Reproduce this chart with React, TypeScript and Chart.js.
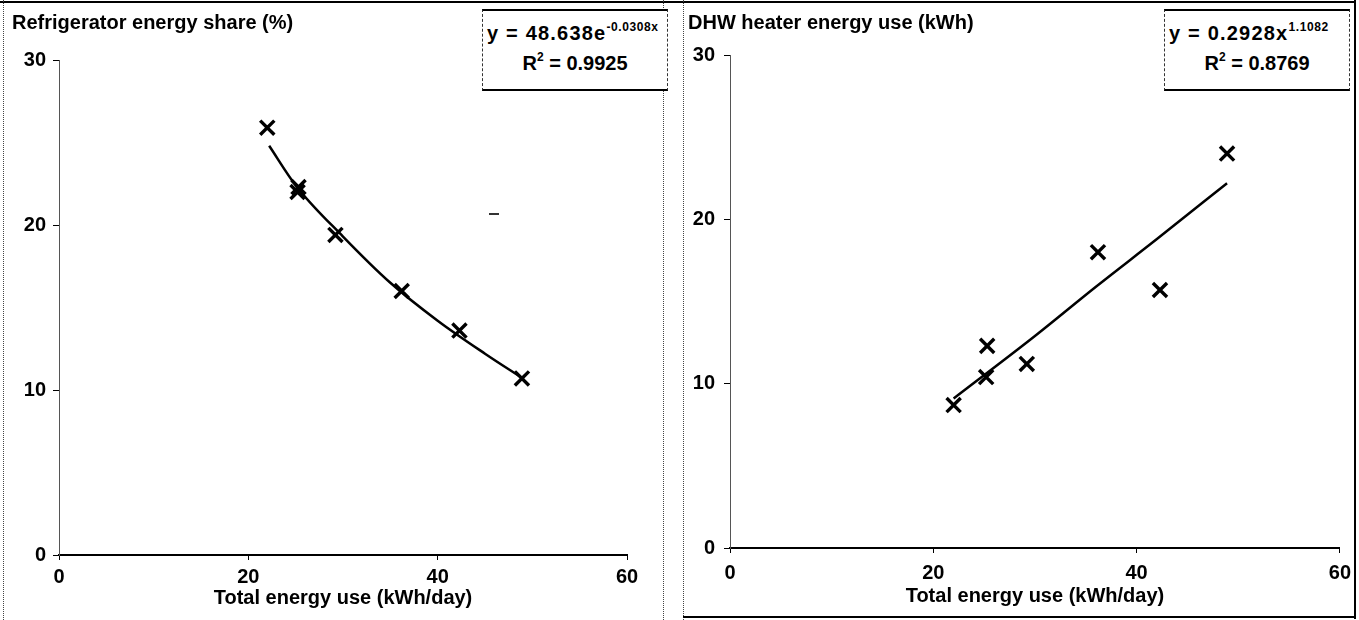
import React, { useEffect, useRef } from "react";
import { Chart, registerables } from "chart.js";

Chart.register(...registerables);

// ---- data ----
const totalEnergy = [22.0, 25.2, 25.3, 29.2, 36.2, 42.3, 48.9];
const fridgeShare = [25.9, 22.0, 22.3, 19.4, 16.0, 13.6, 10.7];
const dhwEnergy = [8.7, 10.4, 12.3, 11.2, 18.0, 15.7, 24.0];

// trend lines as drawn in the picture
const fridgeTrendX = [22.2, 25, 30, 35, 40, 45, 49.0];
const fridgeTrendY = [24.8, 22.4, 19.3, 16.5, 14.2, 12.2, 10.7];
const dhwTrendX = [22.0, 30, 36, 42, 48.9];
const dhwTrendY = [9.1, 12.9, 15.9, 18.8, 22.2];

const xTicks = [0, 20, 40, 60];
const yTicks = [0, 10, 20, 30];

const leftYTitle = "Refrigerator energy share (%)";
const rightYTitle = "DHW heater energy use (kWh)";
const xTitle = "Total energy use (kWh/day)";

const FONT = "'Liberation Sans', Arial, Helvetica, sans-serif";
const tickFont = { family: FONT, size: 20, weight: "bold" as const };

type PanelCfg = {
  pointsY: number[];
  trendX: number[];
  trendY: number[];
  tension: number;
  padRight: number;
  padTop: number;
  yWidth: number;
  xHeight: number;
  yTickPad: number;
  xTickPad: number;
  xTitleBottom: number;
  yDash: number[];
};

function makeConfig(c: PanelCfg): any {
  return {
    type: "scatter",
    data: {
      datasets: [
        {
          label: "trend",
          data: c.trendX.map((x, i) => ({ x, y: c.trendY[i] })),
          showLine: true,
          pointRadius: 0,
          borderColor: "#000",
          borderWidth: 2.5,
          tension: c.tension,
          cubicInterpolationMode: "monotone",
        },
        {
          label: "points",
          data: totalEnergy.map((x, i) => ({ x, y: c.pointsY[i] })),
          showLine: false,
          pointStyle: "crossRot",
          pointRadius: 10,
          pointBorderWidth: 3.4,
          borderColor: "#000",
          backgroundColor: "#000",
        },
      ],
    },
    options: {
      responsive: false,
      animation: false,
      events: [],
      layout: { padding: { top: c.padTop, right: c.padRight, left: 0, bottom: 0 } },
      plugins: { legend: { display: false }, title: { display: false }, tooltip: { enabled: false } },
      scales: {
        x: {
          type: "linear",
          min: 0,
          max: 60,
          afterBuildTicks: (s: any) => {
            s.ticks = xTicks.map((v) => ({ value: v }));
          },
          afterFit: (s: any) => {
            s.height = c.xHeight;
          },
          grid: { display: true, drawOnChartArea: false, drawTicks: true, tickLength: 5, color: "#000", lineWidth: 1 },
          border: { display: true, color: "#000", width: 2 },
          ticks: { font: tickFont, color: "#000", padding: c.xTickPad, maxRotation: 0, autoSkip: false },
          title: {
            display: true,
            text: xTitle,
            font: tickFont,
            color: "#000",
            padding: { top: 0, bottom: c.xTitleBottom },
          },
        },
        y: {
          type: "linear",
          min: 0,
          max: 30,
          afterBuildTicks: (s: any) => {
            s.ticks = yTicks.map((v) => ({ value: v }));
          },
          afterFit: (s: any) => {
            s.width = c.yWidth;
          },
          grid: { display: true, drawOnChartArea: false, drawTicks: true, tickLength: 6, color: "#000", lineWidth: 1 },
          border: { display: true, color: "#555", width: 1, dash: c.yDash },
          ticks: { font: tickFont, color: "#000", padding: c.yTickPad, autoSkip: false },
        },
      },
    },
  };
}

function Panel(props: { cfg: PanelCfg; left: number; width: number }) {
  const ref = useRef<HTMLCanvasElement>(null);
  useEffect(() => {
    if (!ref.current) return;
    const chart = new Chart(ref.current, makeConfig(props.cfg));
    return () => chart.destroy();
  }, []);
  return (
    <canvas
      ref={ref}
      width={props.width}
      height={620}
      style={{ position: "absolute", left: props.left, top: 0, width: props.width, height: 620 }}
    />
  );
}

const textStyle: React.CSSProperties = {
  position: "absolute",
  fontFamily: FONT,
  fontWeight: "bold",
  fontSize: 20,
  color: "#000",
  whiteSpace: "nowrap",
  lineHeight: "24px",
};

function EqBox(props: { left: number; top: number; width: number; height: number; main: string; sup: string; r2: string }) {
  return (
    <div
      style={{
        position: "absolute",
        left: props.left,
        top: props.top,
        width: props.width,
        height: props.height,
        borderTop: "2px solid #000",
        borderBottom: "2px solid #000",
        borderLeft: "1px dashed #333",
        borderRight: "1px dashed #333",
        boxSizing: "border-box",
        background: "#fff",
      }}
    >
      <div style={{ ...textStyle, left: 4, top: 10, letterSpacing: "1.2px" }}>
        {props.main}
        <sup style={{ fontSize: 12, verticalAlign: "top", lineHeight: "12px", letterSpacing: "0.6px" }}>{props.sup}</sup>
      </div>
      <div style={{ ...textStyle, left: 0, width: props.width - 2, textAlign: "center", top: 40 }}>
        R<sup style={{ fontSize: 12, verticalAlign: "top", lineHeight: "12px" }}>2</sup> = {props.r2}
      </div>
    </div>
  );
}

const leftCfg: PanelCfg = {
  pointsY: fridgeShare,
  trendX: fridgeTrendX,
  trendY: fridgeTrendY,
  tension: 0.4,
  padRight: 53,
  padTop: 60,
  yWidth: 59,
  xHeight: 65,
  yTickPad: 7,
  xTickPad: 5,
  xTitleBottom: 10,
  yDash: [2, 3],
};

const rightCfg: PanelCfg = {
  pointsY: dhwEnergy,
  trendX: dhwTrendX,
  trendY: dhwTrendY,
  tension: 0.2,
  padRight: 19,
  padTop: 55,
  yWidth: 50,
  xHeight: 72,
  yTickPad: 9,
  xTickPad: 8,
  xTitleBottom: 12,
  yDash: [1, 6],
};

export default function App() {
  return (
    <div style={{ position: "absolute", left: 0, top: 0, width: 1359, height: 620, background: "#fff", overflow: "hidden" }}>
      <Panel cfg={leftCfg} left={0} width={680} />
      <Panel cfg={rightCfg} left={680} width={679} />

      {/* frame lines */}
      <div style={{ position: "absolute", left: 0, top: 1, width: 1356, height: 0, borderTop: "2px solid #000" }} />
      <div style={{ position: "absolute", left: 3, top: 0, width: 0, height: 620, borderLeft: "1px dotted #444" }} />
      <div style={{ position: "absolute", left: 663, top: 0, width: 0, height: 620, borderLeft: "1px dotted #444" }} />
      <div style={{ position: "absolute", left: 683, top: 0, width: 0, height: 620, borderLeft: "1px dotted #444" }} />
      <div style={{ position: "absolute", left: 1354, top: 0, width: 0, height: 619, borderLeft: "2px solid #000" }} />
      <div style={{ position: "absolute", left: 683, top: 616, width: 673, height: 0, borderTop: "2px solid #000" }} />

      {/* axis titles */}
      <div style={{ ...textStyle, left: 12, top: 10 }}>{leftYTitle}</div>
      <div style={{ ...textStyle, left: 688, top: 10 }}>{rightYTitle}</div>

      {/* equation boxes */}
      <EqBox left={482} top={9} width={186} height={82} main="y = 48.638e" sup="-0.0308x" r2="0.9925" />
      <EqBox left={1164} top={9} width={186} height={82} main="y = 0.2928x" sup="1.1082" r2="0.8769" />

      {/* small stray mark */}
      <div style={{ position: "absolute", left: 489, top: 213, width: 10, height: 2, background: "#333" }} />
    </div>
  );
}
